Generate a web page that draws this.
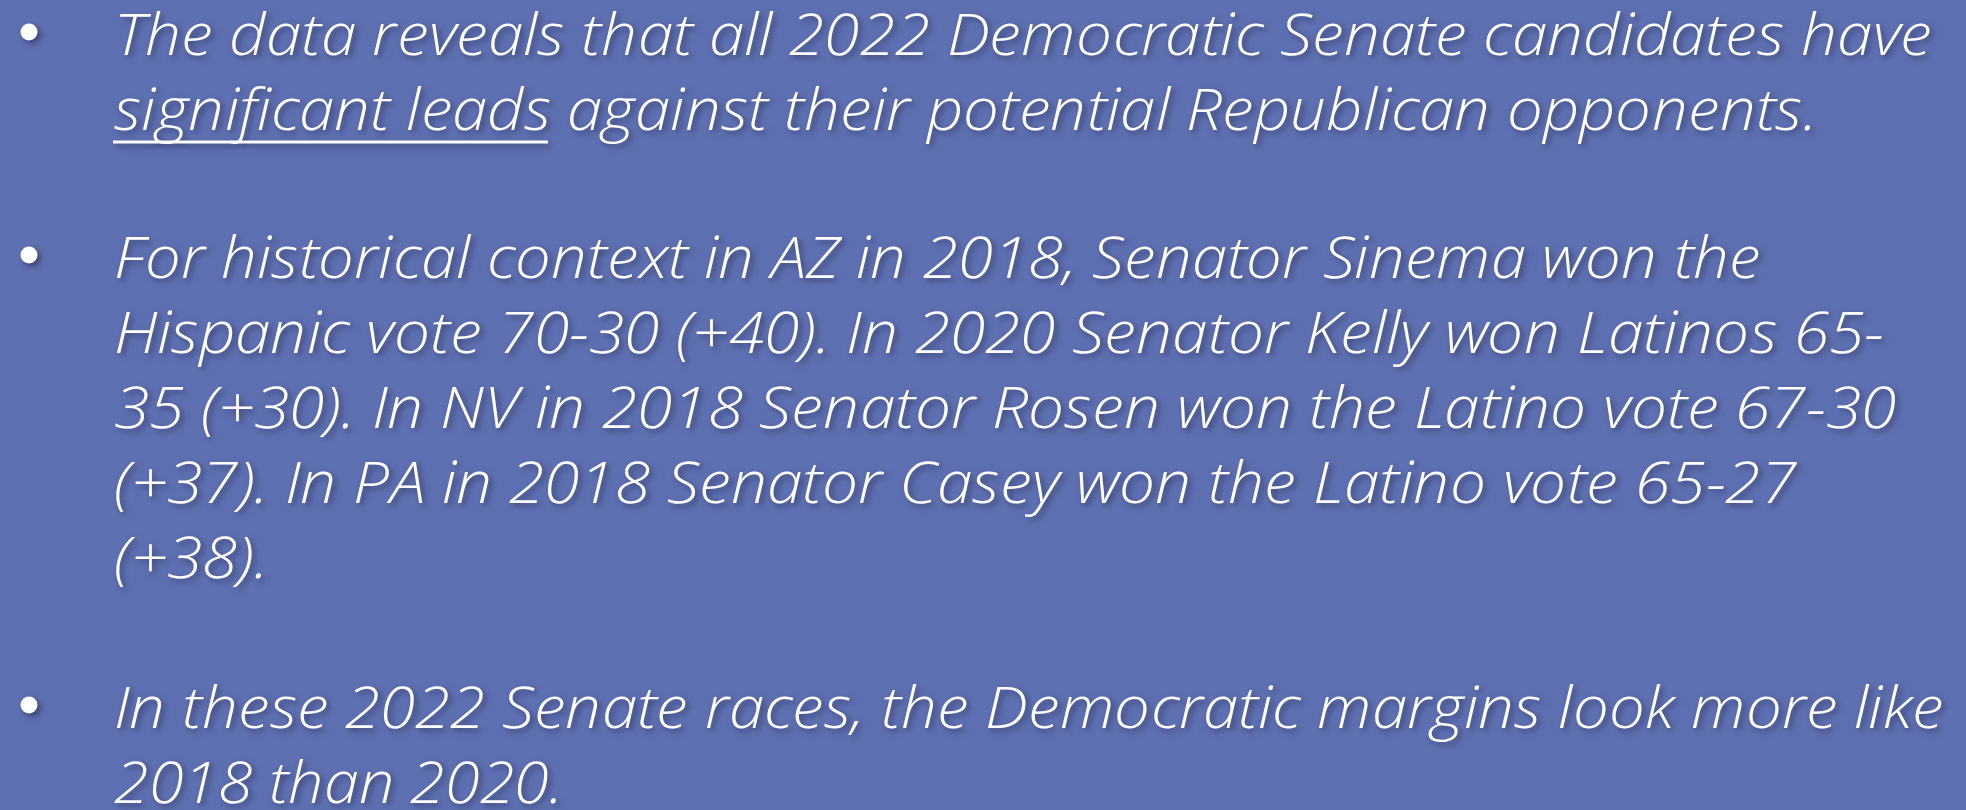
<!DOCTYPE html>
<html>
<head>
<meta charset="utf-8">
<script src="https://cdn.jsdelivr.net/npm/chart.js@4.4.1/dist/chart.umd.min.js"></script>
<style>
  @font-face {
    font-family: "SlideText";
    src: local("Open Sans Italic"), local("OpenSans-Italic"),
         local("Open Sans Light Italic"), local("OpenSans-LightItalic");
    font-style: italic;
    font-weight: 300 800;
    ascent-override: 75%;
    descent-override: 9%;
  }
  html, body { margin: 0; padding: 0; }
  body { width: 1966px; height: 810px; background: #5f70b2; overflow: hidden; }
  svg { display: block; }
  .txt {
    font-family: "SlideText", "Open Sans", "Noto Sans", Lato, sans-serif;
    font-style: italic;
    font-weight: 300;
    font-size: 58px;
    fill: #ffffff;
  }
  .shadow { filter: drop-shadow(3px 3px 3px rgba(20, 25, 60, 0.55)); }
  .mark { fill: #ffffff; }
</style>
</head>
<body>
<svg id="slide" width="1966" height="810" xmlns="http://www.w3.org/2000/svg">
  <g id="layer" class="shadow"></g>
</svg>
<script>
// bullet paragraphs, already broken into the lines of the slide
const bullet1 = [
  "The data reveals that all 2022 Democratic Senate candidates have",
  "significant leads against their potential Republican opponents."
];
const bullet2 = [
  "For historical context in AZ in 2018, Senator Sinema won the",
  "Hispanic vote 70-30 (+40). In 2020 Senator Kelly won Latinos 65-",
  "35 (+30). In NV in 2018 Senator Rosen won the Latino vote 67-30",
  "(+37). In PA in 2018 Senator Casey won the Latino vote 65-27",
  "(+38)."
];
const bullet3 = [
  "In these 2022 Senate races, the Democratic margins look more like",
  "2018 than 2020."
];
const underlined = "significant leads";

// where each line ends on the slide (right edge, px)
const lineEnds = [
  [1932, 1817],
  [1761, 1884, 1896, 1796, 268],
  [1944, 563]
];

const NS = "http://www.w3.org/2000/svg";
const layer = document.getElementById("layer");
const left = 114;
const lineGap = 75;
const paraTops = [55, 278, 728];

[bullet1, bullet2, bullet3].forEach((para, p) => {
  const dot = document.createElementNS(NS, "circle");
  dot.setAttribute("class", "mark");
  dot.setAttribute("cx", 29);
  dot.setAttribute("cy", paraTops[p] - 23);
  dot.setAttribute("r", 8.5);
  layer.appendChild(dot);

  para.forEach((line, i) => {
    const y = paraTops[p] + i * lineGap;
    const t = document.createElementNS(NS, "text");
    t.setAttribute("class", "txt");
    t.setAttribute("x", left);
    t.setAttribute("y", y);
    t.setAttribute("textLength", lineEnds[p][i] - left);
    t.setAttribute("lengthAdjust", "spacingAndGlyphs");
    t.textContent = line;
    layer.appendChild(t);

    if (line.startsWith(underlined)) {
      // underline drawn under the measured width of the phrase
      const w = t.getSubStringLength(0, underlined.length);
      const u = document.createElementNS(NS, "rect");
      u.setAttribute("class", "mark");
      u.setAttribute("x", left - 1);
      u.setAttribute("y", y + 10.5);
      u.setAttribute("width", w - 2);
      u.setAttribute("height", 3);
      layer.appendChild(u);
    }
  });
});
</script>
</body>
</html>
